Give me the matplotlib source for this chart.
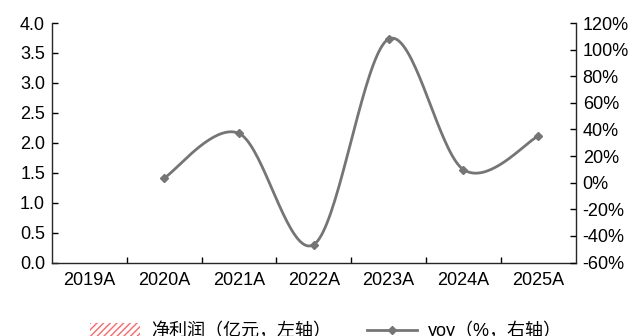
import numpy as np
import matplotlib.pyplot as plt
from matplotlib.patches import Patch
from matplotlib.lines import Line2D

plt.rcParams['font.family'] = ['Liberation Sans', 'Noto Sans CJK SC']

years = ['2019A', '2020A', '2021A', '2022A', '2023A', '2024A', '2025A']
# net profit bars are not visible in the reference
net_profit = [np.nan] * 7
yoy = [np.nan, 3.5, 37.0, -46.5, 108.0, 9.8, 35.0]


def smooth(xs, ys, n=40):
    # Excel-style smoothed line (Catmull-Rom through points)
    px, py = [], []
    for i in range(len(xs) - 1):
        x0, y0 = (xs[i - 1], ys[i - 1]) if i > 0 else (xs[i], ys[i])
        x1, y1 = xs[i], ys[i]
        x2, y2 = xs[i + 1], ys[i + 1]
        x3, y3 = (xs[i + 2], ys[i + 2]) if i + 2 < len(xs) else (x2, y2)
        c1 = (x1 + (x2 - x0) / 6, y1 + (y2 - y0) / 6)
        c2 = (x2 - (x3 - x1) / 6, y2 - (y3 - y1) / 6)
        t = np.linspace(0, 1, n)
        bx = (1-t)**3*x1 + 3*(1-t)**2*t*c1[0] + 3*(1-t)*t**2*c2[0] + t**3*x2
        by = (1-t)**3*y1 + 3*(1-t)**2*t*c1[1] + 3*(1-t)*t**2*c2[1] + t**3*y2
        px.extend(bx)
        py.extend(by)
    return np.array(px), np.array(py)


fig = plt.figure(figsize=(6.39, 3.36), dpi=100)
ax = fig.add_axes([52/639, 1 - 262.5/336, (575.7-52)/639, (262.5-23)/336])
ax2 = ax.twinx()

x = np.arange(len(years))
ax.bar(x, np.nan_to_num(net_profit), width=0.5, color='none')
ax.set_xlim(-0.5, len(years) - 0.5)
ax.set_ylim(0, 4.0)
ax.set_yticks(np.arange(0, 4.01, 0.5))
ax.set_yticklabels([f'{v:.1f}' for v in np.arange(0, 4.01, 0.5)])
ax.set_xticks(np.arange(len(years) - 1) + 0.5)
ax.set_xticklabels([])
ax.set_xticks(x, minor=True)
ax.set_xticklabels(years, minor=True)
ax.tick_params(axis='x', which='major', direction='in', length=4, width=1)
ax.tick_params(axis='x', which='minor', length=0, labelsize=13, pad=7)
ax.tick_params(axis='y', direction='in', length=4, width=1, labelsize=13, pad=5)

xv = [i for i, v in enumerate(yoy) if not np.isnan(v)]
yv = [v for v in yoy if not np.isnan(v)]
sx, sy = smooth(xv, yv)
ax2.plot(sx, sy, color='#757575', lw=2)
ax2.plot(xv, yv, ls='none', marker='D', ms=4, color='#757575')
ax2.set_ylim(-60, 120)
ax2.set_yticks(np.arange(-60, 121, 20))
ax2.set_yticklabels([f'{v}%' for v in range(-60, 121, 20)])
ax2.tick_params(axis='y', direction='in', length=4, width=1, labelsize=13, pad=5)

for a in (ax, ax2):
    a.spines['top'].set_visible(False)
    for s in ('left', 'right', 'bottom'):
        a.spines[s].set_color('#262626')
        a.spines[s].set_linewidth(1)
ax.spines['right'].set_visible(False)
ax2.spines['left'].set_visible(False)
ax2.spines['bottom'].set_visible(False)

handles = [Patch(facecolor='white', edgecolor='#ff6666', hatch='/////', lw=0),
           Line2D([0], [0], color='#757575', lw=2, marker='D', ms=4)]
labels = ['净利润（亿元，左轴）', 'yoy（%，右轴）']
fig.legend(handles, labels, loc='lower center', bbox_to_anchor=(0.51, -0.06),
           ncol=2, frameon=False, fontsize=13, handlelength=2.75,
           columnspacing=2.0, handletextpad=0.6)

fig.savefig('out.png', dpi=100)
